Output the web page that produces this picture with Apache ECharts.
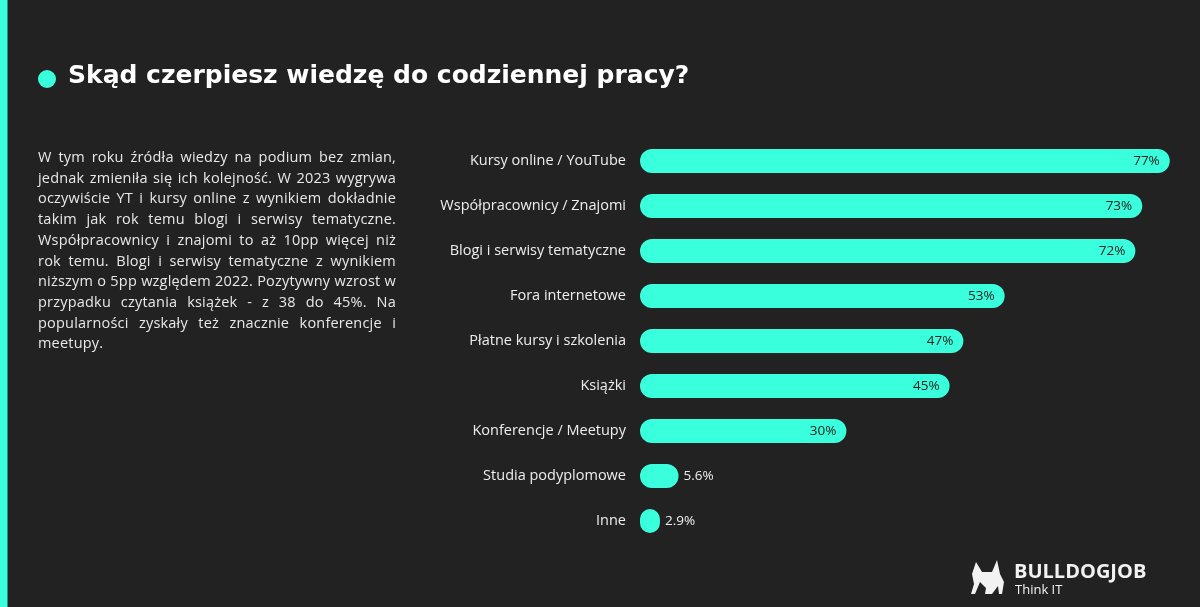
<!DOCTYPE html>
<html>
<head>
<meta charset="utf-8">
<script src="https://cdn.jsdelivr.net/npm/echarts@6/dist/echarts.min.js"></script>
<style>
  html, body { margin: 0; padding: 0; background: #222222; }
  #chart { width: 1200px; height: 607px; }
  .note {
    position: absolute; left: 38px; top: 147px; width: 358px;
    color: #e8e8e8; font-family: "Open Sans", sans-serif; font-size: 14.5px;
    letter-spacing: 0.2px; line-height: 20.7px; white-space: nowrap;
  }
  .note span { display: block; text-align: justify; text-align-last: justify; }
  .note span:last-child { text-align-last: left; }
</style>
</head>
<body>
<div id="chart"></div>
<div class="note" id="note"></div>
<script>
const categories = ['Kursy online / YouTube', 'Współpracownicy / Znajomi', 'Blogi i serwisy tematyczne',
  'Fora internetowe', 'Płatne kursy i szkolenia', 'Książki', 'Konferencje / Meetupy',
  'Studia podyplomowe', 'Inne'];
const values = [77, 73, 72, 53, 47, 45, 30, 5.6, 2.9];
const titleText = 'Skąd czerpiesz wiedzę do codziennej pracy?';
const noteLines = [
  'W tym roku źródła wiedzy na podium bez zmian,',
  'jednak zmieniła się ich kolejność. W 2023 wygrywa',
  'oczywiście YT i kursy online z wynikiem dokładnie',
  'takim jak rok temu blogi i serwisy tematyczne.',
  'Współpracownicy i znajomi to aż 10pp więcej niż',
  'rok temu. Blogi i serwisy tematyczne z wynikiem',
  'niższym o 5pp względem 2022. Pozytywny wzrost w',
  'przypadku czytania książek - z 38 do 45%. Na',
  'popularności zyskały też znacznie konferencje i',
  'meetupy.'
];

document.getElementById('note').innerHTML = noteLines.map(l => '<span>' + l + '</span>').join('');

const teal = '#3affdc';
const chart = echarts.init(document.getElementById('chart'));

// small bars get their label outside
const data = values.map(v => ({
  value: v,
  label: v < 10
    ? { position: 'right', distance: 5, color: '#eeeeee' }
    : { position: 'insideRight', distance: 10, color: '#222222' }
}));

chart.setOption({
  backgroundColor: '#222222',
  animation: false,
  grid: { left: 640, top: 138.5, width: 550.4, height: 405 },
  xAxis: { type: 'value', min: 0, max: 80, show: false },
  yAxis: {
    type: 'category', data: categories, inverse: true,
    axisLine: { show: false }, axisTick: { show: false },
    axisLabel: { color: '#eeeeee', fontSize: 14.5, fontFamily: 'Open Sans', margin: 14 }
  },
  series: [{
    type: 'bar', data: data, barWidth: 24,
    itemStyle: { color: teal, borderRadius: 12 },
    label: { show: true, fontSize: 13.5, fontFamily: 'Open Sans', formatter: p => p.value + '%' }
  }],
  graphic: [
    { type: 'rect', left: 0, top: 0, shape: { width: 7.5, height: 607 }, style: { fill: teal } },
    { type: 'circle', shape: { cx: 47, cy: 79, r: 9 }, style: { fill: teal } },
    { type: 'text', left: 68, top: 64, style: { text: titleText, fill: '#ffffff',
        font: 'bold 25px "DejaVu Sans"' } },
    { type: 'text', left: 1014, top: 562, style: { text: 'BULLDOGJOB', fill: '#f2f2f2',
        font: 'bold 20px "Open Sans"' } },
    { type: 'text', left: 1015, top: 584, style: { text: 'Think IT', fill: '#f2f2f2',
        font: '13px "Open Sans"' } },
    // rough bulldog silhouette
    { type: 'polygon', shape: { points: [[976,562],[982,572],[992,572],[997,560],[1000,574],[1004,582],[1002,594],[999,594],[998,586],[992,594],[985,594],[986,588],[980,582],[975,594],[971,594],[974,584],[972,574]] },
      style: { fill: '#f2f2f2' } }
  ]
});
</script>
</body>
</html>
